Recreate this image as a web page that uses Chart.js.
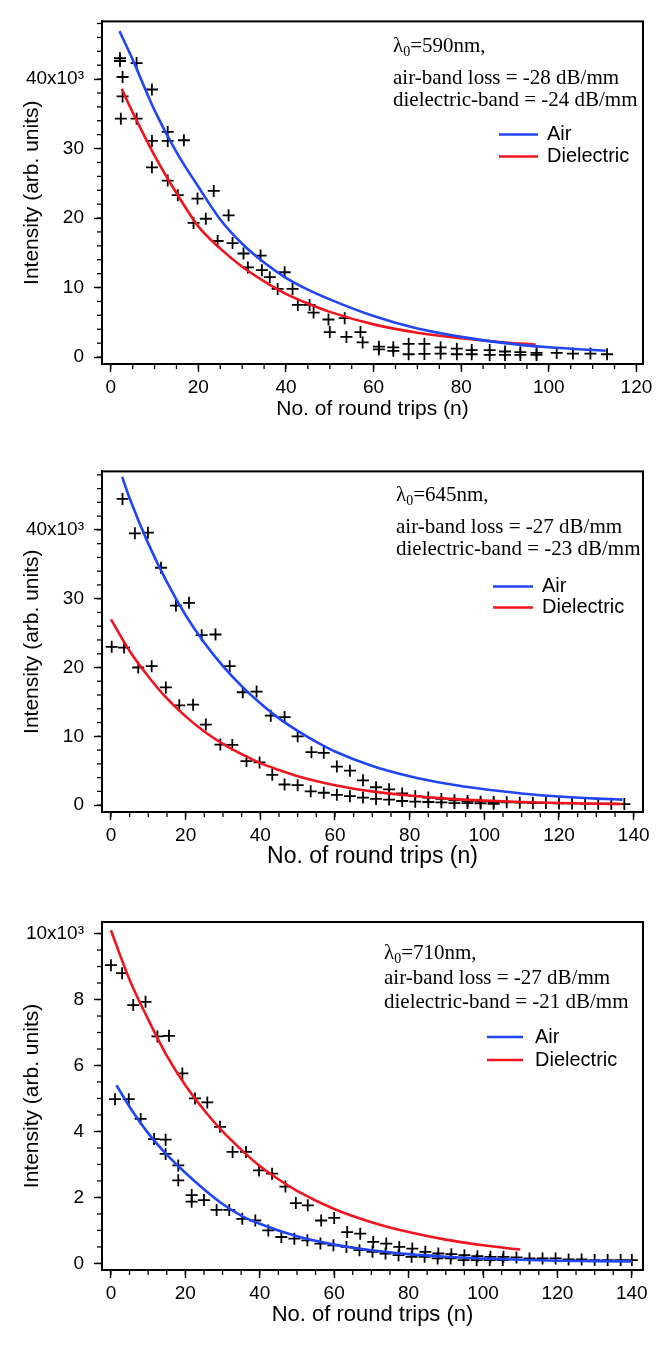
<!DOCTYPE html>
<html>
<head>
<meta charset="utf-8">
<script src="https://cdn.jsdelivr.net/npm/chart.js@4.4.0/dist/chart.umd.min.js"></script>
<style>
  body { margin: 0; background: #fff; }
  .panel { width: 665px; height: 450px; }
  canvas { display: block; }
</style>
</head>
<body>
<div class="panel"><canvas id="p1" width="665" height="450"></canvas></div>
<div class="panel"><canvas id="p2" width="665" height="450"></canvas></div>
<div class="panel"><canvas id="p3" width="665" height="450"></canvas></div>
<script>
// intensities are in units of 10^3 (arb.)

// ---- panel 1: lambda0 = 590 nm ----
const airFitN1 = [2, 5, 10, 15, 20, 25, 30, 35, 40, 45, 50, 60, 70, 80, 90, 100, 113];
const airFit1 = [46.9, 42.8, 35.5, 29.5, 24.5, 19.8, 16.3, 13.6, 11.4, 9.7, 8.3, 5.9, 4.1, 2.9, 2.0, 1.4, 0.9];
const dielFitN1 = [2.5, 5, 10, 15, 20, 25, 30, 35, 40, 45, 50, 60, 70, 80, 90, 97];
const dielFit1 = [38.6, 35.2, 29.0, 23.6, 18.8, 15.6, 13.0, 10.9, 9.1, 7.7, 6.5, 4.7, 3.5, 2.7, 2.1, 1.8];
const measN1 = [2.1, 2.1, 2.7, 2.7, 2.3, 5.9, 5.9, 9.4, 9.4, 9.4, 13.0, 13.0, 13.0, 16.7, 15.3, 19.8, 18.9, 21.7,
  23.5, 24.4, 26.9, 27.8, 30.3, 31.3, 34.2, 34.5, 36.3, 38.1, 39.7, 41.5, 42.7, 45.4, 46.3, 49.7, 50.0, 53.4,
  53.8, 57.0, 57.5, 61.2, 61.2, 64.5, 64.5, 68.0, 68.0, 71.6, 71.6, 75.3, 75.3, 79.0, 79.0, 82.4, 82.4, 86.5,
  86.5, 90.0, 90.0, 93.5, 93.5, 97.2, 97.2, 101.8, 105.5, 109.5, 113.3];
const measI1 = [43.0, 42.6, 40.3, 37.5, 34.3, 42.3, 34.3, 38.5, 31.1, 27.3, 32.4, 31.1, 25.4, 31.2, 23.3, 22.8, 19.3, 19.9,
  23.9, 16.7, 20.4, 16.4, 14.9, 12.9, 14.6, 12.5, 11.5, 9.8, 12.2, 9.8, 7.5, 7.5, 6.4, 5.4, 3.6, 5.6,
  2.9, 3.6, 2.1, 1.5, 1.1, 1.4, 0.9, 1.9, 0.4, 1.9, 0.45, 1.4, 0.5, 1.2, 0.4, 1.0, 0.4, 1.0,
  0.3, 0.8, 0.3, 0.7, 0.3, 0.6, 0.3, 0.6, 0.5, 0.5, 0.4];
const xTicks1 = [0, 20, 40, 60, 80, 100, 120];
const yTicks1 = [0, 10, 20, 30, 40];

// ---- panel 2: lambda0 = 645 nm ----
const airFitN2 = [3, 5, 10, 15, 20, 25, 30, 35, 40, 45, 50, 55, 60, 70, 80, 90, 100, 110, 120, 130, 137];
const airFit2 = [47.7, 44.6, 38.0, 32.4, 27.6, 23.6, 20.2, 17.3, 14.8, 12.6, 10.8, 9.2, 7.8, 5.7, 4.2, 3.1, 2.3, 1.7, 1.25, 0.95, 0.8];
const dielFitN2 = [0, 5, 10, 15, 20, 25, 30, 35, 40, 45, 50, 60, 70, 80, 90, 100, 110, 120, 130, 137];
const dielFit2 = [27.0, 22.4, 18.7, 15.5, 12.9, 10.7, 8.9, 7.4, 6.1, 5.1, 4.2, 2.9, 2.0, 1.4, 0.95, 0.65, 0.45, 0.3, 0.2, 0.17];
const measN2 = [3.1, 6.4, 9.9, 13.4, 17.4, 20.9, 24.3, 28.0, 31.8, 35.3, 39.0, 42.8, 46.5, 50.0, 53.7, 57.0, 60.5, 64.0,
  67.5, 71.0, 74.5, 78.0, 81.5, 85.0, 88.5, 92.0, 95.5, 99.0, 102.5, 106.0, 109.5, 113.0, 116.5, 120.0, 123.5, 127.0,
  130.5, 134.0, 137.5,
  0.2, 3.5, 7.3, 10.9, 14.7, 18.3, 22.0, 25.4, 29.3, 32.5, 36.3, 39.8, 43.2, 46.5, 50.0, 53.5, 57.0, 60.5,
  64.0, 67.5, 71.0, 74.5, 78.0, 81.5, 85.0, 88.5, 92.0, 95.5, 99.0, 102.5];
const measI2 = [44.5, 39.5, 39.6, 34.5, 29.0, 29.4, 24.7, 24.8, 20.2, 16.4, 16.5, 13.0, 12.8, 10.0, 7.7, 7.6, 5.6, 5.0,
  3.6, 2.6, 2.3, 1.7, 1.3, 1.1, 0.9, 0.7, 0.6, 0.5, 0.45, 0.4, 0.35, 0.3, 0.3, 0.25, 0.25, 0.2,
  0.2, 0.2, 0.15,
  23.0, 22.9, 20.0, 20.2, 17.1, 14.5, 14.6, 11.7, 8.8, 8.75, 6.4, 6.2, 4.4, 3.0, 2.9, 2.0, 1.8, 1.5,
  1.3, 1.1, 0.9, 0.8, 0.6, 0.5, 0.45, 0.4, 0.3, 0.3, 0.25, 0.2];
const xTicks2 = [0, 20, 40, 60, 80, 100, 120, 140];
const yTicks2 = [0, 10, 20, 30, 40];

// ---- panel 3: lambda0 = 710 nm ----
const airFitN3 = [1.5, 5, 10, 15, 20, 25, 30, 35, 40, 50, 60, 70, 80, 90, 100, 110, 120, 130, 140];
const airFit3 = [5.4, 4.75, 3.95, 3.3, 2.75, 2.25, 1.8, 1.45, 1.2, 0.82, 0.57, 0.4, 0.28, 0.2, 0.15, 0.11, 0.08, 0.07, 0.06];
const dielFitN3 = [0, 5, 10, 15, 20, 25, 30, 35, 40, 45, 50, 60, 70, 80, 90, 100, 110];
const dielFit3 = [10.1, 8.6, 7.4, 6.3, 5.4, 4.65, 4.0, 3.45, 2.95, 2.55, 2.2, 1.65, 1.25, 0.95, 0.72, 0.55, 0.42];
const measN3 = [0, 3, 6, 9.3, 12.5, 15.6, 19.2, 22.6, 25.9, 29.3, 32.7, 36.3, 39.8, 43.3, 46.9, 49.7, 52.9, 56.5,
  60, 63.5, 67, 70.5, 74, 77.5, 81, 84.5, 88, 91.5, 95, 98.5, 102, 105.5, 109, 112.5, 116, 119.5,
  123, 126.5, 130, 133.5, 137, 140,
  1.1, 4.8, 8, 11.6, 14.7, 14.7, 18.1, 18.1, 21.7, 21.7, 25, 28.4, 31.8, 35.3, 38.8, 42.3, 45.8, 49.3,
  52.8, 56.3, 59.8, 63.3, 66.8, 70.3, 73.8, 77.3, 80.8, 84.3, 87.8, 91.3, 94.8, 98.3, 101.8, 105.3];
const measI3 = [9.04, 8.8, 7.83, 7.93, 6.88, 6.9, 5.76, 5.0, 4.88, 4.14, 3.38, 3.38, 2.82, 2.72, 2.33, 1.83, 1.76, 1.3,
  1.38, 0.95, 0.9, 0.65, 0.6, 0.5, 0.45, 0.35, 0.3, 0.28, 0.25, 0.22, 0.2, 0.2, 0.18, 0.15, 0.15, 0.15,
  0.12, 0.12, 0.1, 0.1, 0.1, 0.1,
  4.98, 4.98, 4.38, 3.77, 3.75, 3.32, 2.97, 2.52, 2.07, 1.87, 1.92, 1.62, 1.62, 1.35, 1.3, 1.0, 0.8, 0.75,
  0.7, 0.6, 0.55, 0.5, 0.4, 0.35, 0.3, 0.25, 0.2, 0.2, 0.15, 0.15, 0.1, 0.1, 0.1, 0.1];
const xTicks3 = [0, 20, 40, 60, 80, 100, 120, 140];
const yTicks3 = [0, 2, 4, 6, 8, 10];

const BLUE = '#1f45f5';
const RED = '#f0141e';
const SANS = '"Liberation Sans", Arial, Helvetica, sans-serif';
const SERIF = '"Liberation Serif", "Times New Roman", serif';

function pairs(xs, ys) {
  return xs.map((x, i) => ({ x: x, y: ys[i] }));
}

// frame box, minor ticks, annotation text and in-plot legend
const decorPlugin = {
  id: 'decor',
  afterDraw(chart, args, o) {
    const ctx = chart.ctx;
    const a = chart.chartArea;
    const xs = chart.scales.x, ys = chart.scales.y;
    ctx.save();
    ctx.strokeStyle = '#000';
    ctx.lineWidth = 1.3;
    // minor ticks
    for (let k = Math.ceil(ys.min / o.yMinor); k * o.yMinor <= ys.max; k++) {
      const p = ys.getPixelForValue(k * o.yMinor);
      ctx.beginPath(); ctx.moveTo(a.left, p); ctx.lineTo(a.left - 5, p); ctx.stroke();
    }
    for (let k = Math.ceil(xs.min / o.xMinor); k * o.xMinor <= xs.max; k++) {
      const p = xs.getPixelForValue(k * o.xMinor);
      ctx.beginPath(); ctx.moveTo(p, a.bottom); ctx.lineTo(p, a.bottom + 5); ctx.stroke();
    }
    // frame
    ctx.lineWidth = 2;
    ctx.strokeRect(a.left, a.top, a.right - a.left, a.bottom - a.top);

    // annotation
    ctx.fillStyle = '#000';
    ctx.textBaseline = 'middle';
    ctx.textAlign = 'left';
    const tx = a.left + o.noteX;
    ctx.font = '21px ' + SERIF;
    ctx.fillText('\u03bb', tx, a.top + o.noteY[0]);
    let w = ctx.measureText('\u03bb').width;
    ctx.font = '14px ' + SERIF;
    ctx.fillText('0', tx + w, a.top + o.noteY[0] + 6);
    w += ctx.measureText('0').width;
    ctx.font = '21px ' + SERIF;
    ctx.fillText('=' + o.lambda + 'nm,', tx + w, a.top + o.noteY[0]);
    ctx.fillText('air-band loss = ' + o.airLoss + ' dB/mm', tx, a.top + o.noteY[1]);
    ctx.fillText('dielectric-band = ' + o.dielLoss + ' dB/mm', tx, a.top + o.noteY[2]);

    // legend for the two fitted curves
    ctx.font = '20px ' + SANS;
    [0, 1].forEach(i => {
      const ds = chart.data.datasets[i];
      const ly = a.top + o.legY[i];
      ctx.strokeStyle = ds.borderColor;
      ctx.lineWidth = 2.5;
      ctx.beginPath(); ctx.moveTo(o.legX[0], ly); ctx.lineTo(o.legX[1], ly); ctx.stroke();
      ctx.fillText(ds.label, o.legX[2], ly);
    });
    ctx.restore();
  }
};

function makePanel(id, c) {
  const tickFont = { family: SANS, size: 19 };
  const titleFont = { family: SANS, size: c.titleSize };
  return new Chart(document.getElementById(id), {
    type: 'scatter',
    data: {
      datasets: [
        { label: 'Air', data: pairs(c.airN, c.air), showLine: true, borderColor: BLUE, borderWidth: 2.6,
          pointRadius: 0, cubicInterpolationMode: 'monotone' },
        { label: 'Dielectric', data: pairs(c.dielN, c.diel), showLine: true, borderColor: RED, borderWidth: 2.6,
          pointRadius: 0, cubicInterpolationMode: 'monotone' },
        { label: 'measured', data: pairs(c.measN, c.measI), showLine: false, pointStyle: 'cross',
          pointRadius: 6, borderColor: '#000', backgroundColor: '#000', borderWidth: 1.8 }
      ]
    },
    options: {
      responsive: false,
      animation: false,
      events: [],
      layout: { padding: { top: c.padTop, right: 22, bottom: c.padBottom, left: 0 } },
      plugins: {
        legend: { display: false },
        tooltip: { enabled: false },
        decor: c.decor
      },
      scales: {
        x: {
          type: 'linear', min: c.xMin, max: c.xMax,
          afterBuildTicks: s => { s.ticks = c.xTicks.map(v => ({ value: v })); },
          afterFit: s => { s.height = 60; },
          grid: { drawOnChartArea: false, drawTicks: true, tickLength: 8, color: '#000', tickWidth: 1.4 },
          border: { display: true, color: '#000', width: 2 },
          ticks: { color: '#000', font: tickFont, padding: 4, maxRotation: 0, autoSkip: false,
            callback: v => String(v) },
          title: { display: true, text: 'No. of round trips (n)', color: '#000', font: titleFont,
            padding: { top: 0, bottom: 2 } }
        },
        y: {
          type: 'linear', min: c.yMin, max: c.yMax,
          afterBuildTicks: s => { s.ticks = c.yTicks.map(v => ({ value: v })); },
          afterFit: s => { s.width = 102; },
          grid: { drawOnChartArea: false, drawTicks: true, tickLength: 8, color: '#000', tickWidth: 1.4 },
          border: { display: true, color: '#000', width: 2 },
          ticks: { color: '#000', font: tickFont, padding: 10,
            callback: v => (v === c.yTicks[c.yTicks.length - 1] ? v + 'x10\u00b3' : String(v)) },
          title: { display: true, text: 'Intensity (arb. units)', color: '#000', font: { family: SANS, size: 21 },
            padding: { top: 20, bottom: 0 } }
        }
      }
    },
    plugins: [decorPlugin]
  });
}

makePanel('p1', {
  airN: airFitN1, air: airFit1, dielN: dielFitN1, diel: dielFit1, measN: measN1, measI: measI1,
  xTicks: xTicks1, yTicks: yTicks1, xMin: -2, xMax: 121.5, yMin: -1, yMax: 48.3,
  padTop: 8, padBottom: 26, titleSize: 21,
  decor: { xMinor: 5, yMinor: 2, lambda: '590', airLoss: '-28', dielLoss: '-24',
    noteX: 291, noteY: [25, 57, 79], legX: [499, 538, 547], legY: [113, 135] }
});

makePanel('p2', {
  airN: airFitN2, air: airFit2, dielN: dielFitN2, diel: dielFit2, measN: measN2, measI: measI2,
  xTicks: xTicks2, yTicks: yTicks2, xMin: -2.4, xMax: 142.5, yMin: -1, yMax: 48.5,
  padTop: 14, padBottom: 28, titleSize: 23,
  decor: { xMinor: 5, yMinor: 2, lambda: '645', airLoss: '-27', dielLoss: '-23',
    noteX: 294, noteY: [24, 56, 78], legX: [493, 533, 542], legY: [115, 136] }
});

makePanel('p3', {
  airN: airFitN3, air: airFit3, dielN: dielFitN3, diel: dielFit3, measN: measN3, measI: measI3,
  xTicks: xTicks3, yTicks: yTicks3, xMin: -2.4, xMax: 143, yMin: -0.2, yMax: 10.35,
  padTop: 22, padBottom: 20, titleSize: 22,
  decor: { xMinor: 5, yMinor: 0.5, lambda: '710', airLoss: '-27', dielLoss: '-21',
    noteX: 282, noteY: [31, 56, 80], legX: [487, 523, 535], legY: [115, 138] }
});
</script>
</body>
</html>
